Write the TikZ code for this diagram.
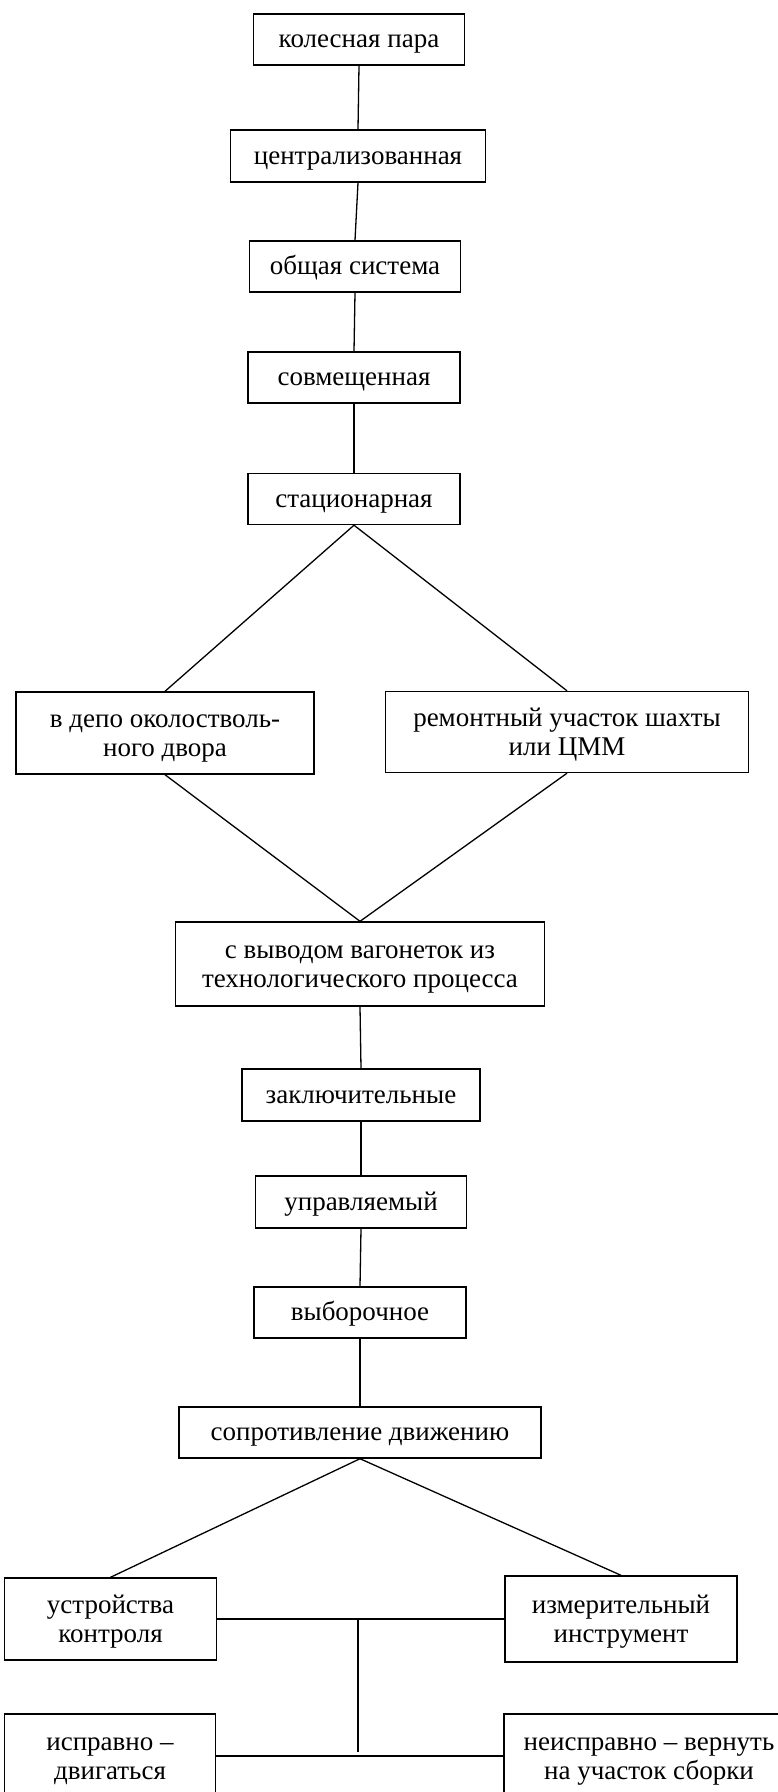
\documentclass[tikz,border=0pt]{standalone}
\usepackage{fontspec}
\setmainfont{Liberation Serif}
\usepackage{tikz}
\usetikzlibrary{positioning,calc}

\begin{document}
\begin{tikzpicture}[x=1pt,y=-1pt,
  box/.style={draw,line width=1.4pt,inner sep=0pt,align=center,font=\fontsize{27}{29.5}\selectfont,
    text height=22pt,text depth=5.6pt},
  boxtwo/.style={box,text height=53.5pt,text depth=5.6pt},
  link/.style={line width=1.3pt}]
  \useasboundingbox (0,0) rectangle (777,1792);
  % chain of the repair scheme
  \node[box,minimum width=211pt,minimum height=51pt] (kol) at (359,39.5) {колесная пара};
  \node[box,minimum width=255pt,minimum height=52pt] (centr) at (358,156) {централизованная};
  \node[box,minimum width=211pt,minimum height=51pt] (obsh) at (355,266.5) {общая система};
  \node[box,minimum width=212pt,minimum height=51pt] (sovm) at (354,377.5) {совмещенная};
  \node[box,minimum width=212pt,minimum height=51pt] (stac) at (354,499) {стационарная};
  \node[boxtwo,minimum width=298pt,minimum height=82pt] (depo) at (165,733) {в депо околостволь-\\ного двора};
  \node[boxtwo,minimum width=363pt,minimum height=81pt] (remont) at (567,732) {ремонтный участок шахты\\или ЦММ};
  \node[boxtwo,minimum width=369pt,minimum height=84pt] (vyvod) at (360,964) {с выводом вагонеток из\\технологического процесса};
  \node[box,minimum width=238pt,minimum height=52pt] (zakl) at (361,1095) {заключительные};
  \node[box,minimum width=211pt,minimum height=52pt] (uprav) at (361,1202) {управляемый};
  \node[box,minimum width=212pt,minimum height=51pt] (vybor) at (360,1312.5) {выборочное};
  \node[box,minimum width=362pt,minimum height=51pt] (sopr) at (360,1432.5) {сопротивление движению};
  \node[boxtwo,minimum width=212pt,minimum height=82pt] (ustr) at (110.5,1619) {устройства\\контроля};
  \node[boxtwo,minimum width=232pt,minimum height=86pt] (izmer) at (621,1619) {измерительный\\инструмент};
  \node[boxtwo,minimum width=211pt,minimum height=84pt] (ispr) at (110,1756) {исправно --\\двигаться};
  \node[boxtwo,minimum width=290pt,minimum height=84pt] (neispr) at (649,1756) {неисправно -- вернуть\\на участок сборки};
  \coordinate (jtop) at (358,1619);
  \coordinate (jbot) at (358,1752);

  \draw[link] (kol.south) -- (centr.north);
  \draw[link] (centr.south) -- (obsh.north);
  \draw[link] (obsh.south) -- (sovm.north);
  \draw[link] (sovm.south) -- (stac.north);
  \draw[link] (stac.south) -- (depo.north);
  \draw[link] (stac.south) -- (remont.north);
  \draw[link] (depo.south) -- (vyvod.north);
  \draw[link] (remont.south) -- (vyvod.north);
  \draw[link] (vyvod.south) -- (zakl.north);
  \draw[link] (zakl.south) -- (uprav.north);
  \draw[link] (uprav.south) -- (vybor.north);
  \draw[link] (vybor.south) -- (sopr.north);
  \draw[link] (sopr.south) -- (ustr.north);
  \draw[link] (sopr.south) -- (izmer.north);
  \draw[link] (ustr.east) -- (izmer.west);
  \draw[link] (jtop) -- (jbot);
  \draw[link] (ispr.east) -- (neispr.west);
\end{tikzpicture}
\end{document}
